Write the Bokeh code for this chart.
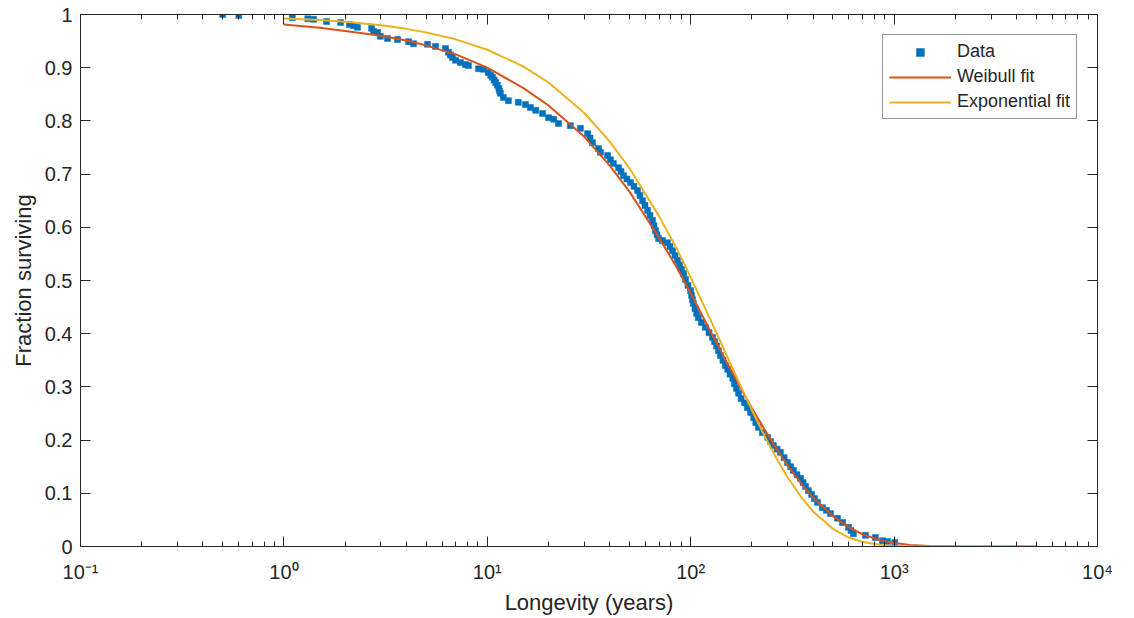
import math
from bokeh.plotting import figure
from bokeh.models import (Range1d, FixedTicker, LogAxis, LinearAxis,
                          CustomJSTickFormatter)
from bokeh.embed import file_html
from bokeh.resources import INLINE

# ---------------- data ----------------
data_t = [0.5, 0.6, 1.10, 1.31, 1.40, 1.62, 1.90, 2.10, 2.20, 2.30, 2.70, 2.76, 2.89, 2.98,
          3.23, 3.62, 4.10, 4.34, 5.08, 5.56, 6.23, 6.45, 6.59, 6.74, 6.98, 7.38, 7.81, 8.08,
          9.05, 9.58, 10.1, 10.4, 10.6, 10.8, 11.0, 11.2, 11.4, 11.5, 11.6, 12.0, 12.7, 14.2,
          15.4, 16.3, 17.3, 18.7, 20.0, 21.2, 22.4, 25.6, 28.7, 31.1, 32.0, 32.9, 35.2, 36.0,
          39.0, 40.3, 41.7, 44.2, 45.4, 46.7, 48.6, 50.6, 52.6, 54.8, 56.3, 58.0, 59.6, 61.4,
          63.1, 64.9, 66.0, 67.1, 68.3, 69.5, 72.7, 76.9, 79.1, 81.4, 83.7, 86.1, 88.1, 90.1,
          92.2, 94.3, 97.0, 99.8, 101, 102, 103, 105, 107, 109, 113, 118, 123, 128, 131, 134,
          137, 140, 144, 148, 152, 156, 161, 164, 168, 172, 177, 184, 190, 197, 204, 209, 215,
          225, 239, 247, 255, 266, 276, 288, 299, 310, 320, 333, 347, 357, 367, 379, 393, 406,
          420, 444, 465, 487, 527, 558, 597, 614, 631, 723, 809, 877, 929, 1007]
data_s = [1.000, 0.998, 0.994, 0.992, 0.991, 0.987, 0.985, 0.981, 0.979, 0.976, 0.974, 0.968,
          0.966, 0.959, 0.955, 0.953, 0.949, 0.945, 0.944, 0.940, 0.936, 0.929, 0.924, 0.919,
          0.914, 0.910, 0.906, 0.904, 0.898, 0.897, 0.891, 0.886, 0.882, 0.877, 0.872, 0.867,
          0.861, 0.856, 0.852, 0.844, 0.838, 0.835, 0.831, 0.825, 0.820, 0.814, 0.806, 0.803,
          0.795, 0.791, 0.786, 0.776, 0.768, 0.759, 0.748, 0.741, 0.735, 0.727, 0.720, 0.712,
          0.705, 0.697, 0.691, 0.684, 0.677, 0.669, 0.660, 0.650, 0.641, 0.632, 0.622, 0.613,
          0.603, 0.594, 0.586, 0.579, 0.575, 0.571, 0.564, 0.556, 0.547, 0.538, 0.529, 0.521,
          0.513, 0.502, 0.491, 0.481, 0.472, 0.464, 0.457, 0.447, 0.438, 0.430, 0.421, 0.412,
          0.402, 0.393, 0.385, 0.377, 0.368, 0.359, 0.350, 0.340, 0.333, 0.324, 0.316, 0.306,
          0.297, 0.288, 0.278, 0.270, 0.261, 0.252, 0.242, 0.233, 0.224, 0.214, 0.205, 0.197,
          0.190, 0.183, 0.177, 0.167, 0.158, 0.150, 0.143, 0.135, 0.128, 0.120, 0.113, 0.105,
          0.098, 0.090, 0.083, 0.073, 0.068, 0.062, 0.053, 0.045, 0.036, 0.030, 0.024, 0.021,
          0.017, 0.011, 0.0094, 0.0075]

fit_t = [1, 1.5, 2, 3, 4, 5, 7, 10, 15, 20, 30, 40, 50, 70, 85, 100, 130, 150, 170, 200,
         230, 260, 300, 350, 400, 500, 600, 700, 850, 1000, 1200, 1500, 2000, 3000, 5000]
weibull_s = [0.981, 0.975, 0.969, 0.960, 0.951, 0.942, 0.925, 0.900, 0.862, 0.829,
             0.770, 0.716, 0.667, 0.580, 0.526, 0.476, 0.392, 0.347, 0.309, 0.260,
             0.221, 0.188, 0.152, 0.118, 0.092, 0.057, 0.036, 0.023, 0.012, 0.0064,
             0.0028, 0.00085, 0.00013, 0.0, 0.0]
expo_s = [0.9925, 0.9895, 0.9862, 0.9796, 0.9730, 0.9664, 0.9533, 0.9338, 0.9025, 0.8722,
          0.8148, 0.7612, 0.7110, 0.6205, 0.561, 0.5060, 0.4125, 0.3600, 0.3142, 0.2562,
          0.2088, 0.1703, 0.1298, 0.0925, 0.0658, 0.0333, 0.0169, 0.0086, 0.0031, 0.0011,
          0.0003, 0.00004, 0.0, 0.0, 0.0]

x_major = [0.1, 1, 10, 100, 1000, 10000]
x_labels = ["10\u207b\u00b9", "10\u2070", "10\u00b9", "10\u00b2", "10\u00b3", "10\u2074"]
y_major = [0, 0.1, 0.2, 0.3, 0.4, 0.5, 0.6, 0.7, 0.8, 0.9, 1]
y_labels = ["0", "0.1", "0.2", "0.3", "0.4", "0.5", "0.6", "0.7", "0.8", "0.9", "1"]

series_names = ["Data", "Weibull fit", "Exponential fit"]
x_title = "Longevity (years)"
y_title = "Fraction surviving"

# ---------------- style ----------------
FONT = "Liberation Sans"
AX = "#262626"
C_DATA = "#0072BD"
C_WEI = "#D95319"
C_EXP = "#EDB120"

p = figure(width=1134, height=618, x_axis_type="log",
           x_range=Range1d(0.1, 10000), y_range=Range1d(0, 1),
           output_backend="svg", toolbar_location=None,
           min_border_left=80, min_border_right=37, min_border_top=14, min_border_bottom=72)
p.outline_line_color = None
p.background_fill_color = "white"
p.border_fill_color = "white"
p.xgrid.visible = False
p.ygrid.visible = False

x_minor = [m * 10.0 ** e for e in range(-1, 4) for m in range(2, 10)]
xticker = FixedTicker(ticks=x_major, minor_ticks=x_minor)
yticker = FixedTicker(ticks=y_major, minor_ticks=[])


def style_axis(ax):
    ax.axis_line_color = AX
    ax.axis_line_width = 1
    ax.major_tick_line_color = AX
    ax.minor_tick_line_color = AX
    ax.major_tick_in = 10
    ax.major_tick_out = 0
    ax.minor_tick_in = 5
    ax.minor_tick_out = 0
    ax.major_label_text_font = FONT
    ax.major_label_text_color = AX
    ax.axis_label_text_font = FONT
    ax.axis_label_text_color = AX
    ax.axis_label_text_font_style = "normal"


xa = p.xaxis[0]
style_axis(xa)
xa.ticker = xticker
xa.major_label_overrides = dict(zip(x_major, x_labels))
xa.major_label_text_font_size = "20px"
xa.major_label_standoff = 14
xa.axis_label = x_title
xa.axis_label_text_font_size = "22px"
xa.axis_label_standoff = 4

ya = p.yaxis[0]
style_axis(ya)
ya.ticker = yticker
ya.major_label_overrides = dict(zip(y_major, y_labels))
ya.major_label_text_font_size = "20px"
ya.major_label_standoff = 8
ya.axis_label = y_title
ya.axis_label_text_font_size = "22px"
ya.axis_label_standoff = 6

empty = CustomJSTickFormatter(code="return ''")
top = LogAxis(ticker=xticker, formatter=empty)
style_axis(top)
top.major_label_text_font_size = "1px"
top.major_label_standoff = 0
p.add_layout(top, "above")

right = LinearAxis(ticker=yticker, formatter=empty)
style_axis(right)
right.major_label_text_font_size = "1px"
right.major_label_standoff = 0
p.add_layout(right, "right")

p.scatter(data_t, data_s, marker="square", size=6, fill_color=C_DATA,
          line_color=C_DATA, line_width=0.5, legend_label=series_names[0])
p.line(fit_t, weibull_s, line_color=C_WEI, line_width=2, legend_label=series_names[1])
p.line(fit_t, expo_s, line_color=C_EXP, line_width=2, legend_label=series_names[2])

lg = p.legend[0]
lg.location = "top_right"
lg.margin = 20
lg.padding = 6
lg.spacing = 4
lg.glyph_width = 62
lg.glyph_height = 20
lg.label_height = 20
lg.label_standoff = 6
lg.label_text_font = FONT
lg.label_text_font_size = "18px"
lg.label_text_color = AX
lg.border_line_color = AX
lg.border_line_width = 1
lg.background_fill_color = "white"
lg.background_fill_alpha = 1.0

open("out.html", "w").write(file_html(p, INLINE))
